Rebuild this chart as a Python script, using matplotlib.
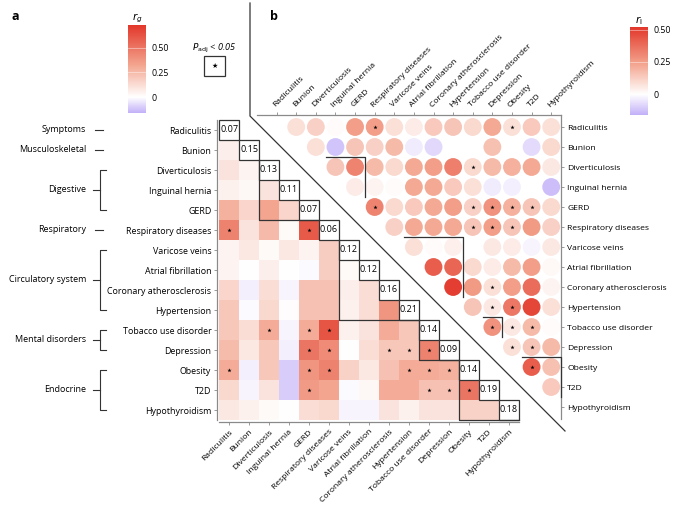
import numpy as np
import matplotlib
matplotlib.use("Agg")
import matplotlib.pyplot as plt
from matplotlib.colors import LinearSegmentedColormap, Normalize
from matplotlib.cm import ScalarMappable
from matplotlib.patches import Rectangle
from matplotlib.lines import Line2D

plt.rcParams['font.family'] = ['Open Sans', 'DejaVu Sans']
plt.rcParams['font.size'] = 6.5

DISEASES = ["Radiculitis", "Bunion", "Diverticulosis", "Inguinal hernia", "GERD",
            "Respiratory diseases", "Varicose veins", "Atrial fibrillation",
            "Coronary atherosclerosis", "Hypertension", "Tobacco use disorder",
            "Depression", "Obesity", "T2D", "Hypothyroidism"]

GROUPS = ["Symptoms", "Musculoskeletal", "Digestive", "Respiratory",
          "Circulatory system", "Mental disorders", "Endocrine"]
GROUP_SPANS = [(0, 0), (1, 1), (2, 4), (5, 5), (6, 9), (10, 11), (12, 14)]

# panel a: genetic correlation, lower triangle (row i -> cols 0..i-1)
RG_DIAG = [0.07, 0.15, 0.13, 0.11, 0.07, 0.06, 0.12, 0.12, 0.16, 0.21, 0.14, 0.09, 0.14, 0.19, 0.18]
RG_LOWER = [
    [],
    [0.06],
    [0.10, 0.04],
    [0.05, 0.03, 0.10],
    [0.28, 0.15, 0.32, 0.15],
    [0.45, 0.10, 0.25, 0.02, 0.60],
    [0.04, 0.08, 0.02, 0.08, 0.04, 0.18],
    [0.04, 0.00, 0.06, 0.00, -0.01, 0.18, 0.02],
    [0.15, -0.03, 0.12, -0.02, 0.22, 0.22, 0.06, 0.12],
    [0.20, -0.01, 0.14, 0.01, 0.22, 0.22, 0.05, 0.12, 0.38],
    [0.20, 0.12, 0.30, -0.02, 0.30, 0.62, 0.05, 0.10, 0.30, 0.20],
    [0.24, 0.08, 0.20, -0.03, 0.50, 0.42, 0.00, 0.12, 0.20, 0.20, 0.45],
    [0.30, -0.03, 0.20, -0.10, 0.38, 0.45, 0.16, 0.08, 0.22, 0.30, 0.30, 0.28],
    [0.14, -0.02, 0.10, -0.10, 0.36, 0.32, -0.01, 0.03, 0.30, 0.30, 0.22, 0.22, 0.50],
    [0.08, 0.05, 0.02, 0.00, 0.12, 0.14, -0.02, -0.02, 0.10, 0.05, 0.10, 0.10, 0.16, 0.16],
]
RG_STARS = [(5, 0), (5, 4), (10, 2), (10, 4), (10, 5), (11, 4), (11, 5), (11, 8), (11, 9),
            (11, 10), (12, 0), (12, 4), (12, 5), (12, 9), (12, 10), (12, 11), (13, 4),
            (13, 10), (13, 11), (13, 12)]

# panel b: upper triangle (row i -> cols i+1..14)
RI_UPPER = [
    [0.08, 0.12, 0.01, 0.25, 0.25, 0.08, 0.05, 0.14, 0.15, 0.10, 0.22, 0.08, 0.14, 0.08],
    [0.08, -0.12, 0.15, 0.12, 0.18, -0.04, -0.08, 0.00, 0.00, 0.16, 0.00, -0.07, 0.10],
    [0.15, 0.32, 0.18, 0.10, 0.22, 0.25, 0.33, 0.10, 0.18, 0.20, 0.22, 0.06],
    [0.05, 0.03, 0.01, 0.22, 0.22, 0.14, 0.08, -0.04, -0.03, 0.00, -0.13],
    [0.32, 0.10, 0.14, 0.22, 0.25, 0.12, 0.28, 0.20, 0.15, 0.10],
    [0.12, 0.22, 0.22, 0.22, 0.15, 0.25, 0.15, 0.26, 0.12],
    [0.08, 0.01, 0.04, 0.00, 0.06, 0.05, -0.02, 0.06],
    [0.42, 0.40, 0.10, 0.05, 0.18, 0.25, 0.02],
    [0.50, 0.26, 0.08, 0.25, 0.38, 0.03],
    [0.15, 0.06, 0.35, 0.48, 0.08],
    [0.28, 0.06, 0.18, 0.01],
    [0.08, 0.15, 0.18],
    [0.42, 0.16],
    [0.14],
    [],
]
RI_STARS = [(0, 5), (0, 12), (2, 10), (4, 5), (4, 10), (4, 11), (4, 12), (4, 13), (5, 10),
            (5, 11), (5, 12), (8, 11), (9, 11), (9, 12), (10, 11), (10, 12), (10, 13),
            (11, 12), (11, 13), (12, 13)]

W, H = 680, 505
EDGE = "#333333"
SPINE = "#8a8a8a"
TICK_FS = 6.1


def fx(x):
    return x / W


def fy(y):
    return 1 - y / H


def make_cmap(vmin, vmax):
    z = -vmin / (vmax - vmin)
    return LinearSegmentedColormap.from_list(
        "rr", [(0, "#c2b0f8"), (z, "#ffffff"), (z + (1 - z) * 0.45, "#f3a48e"), (1, "#e2372a")])


n = len(DISEASES)
RG_MIN, RG_MAX = -0.16, 0.73
RI_MIN, RI_MAX = -0.16, 0.52
cmap_a = make_cmap(RG_MIN, RG_MAX)
cmap_b = make_cmap(RI_MIN, RI_MAX)
norm_a = Normalize(RG_MIN, RG_MAX)
norm_b = Normalize(RI_MIN, RI_MAX)

fig = plt.figure(figsize=(6.8, 5.05), dpi=100)

# ---------- panel a ----------
M = np.full((n, n), np.nan)
for i, row in enumerate(RG_LOWER):
    for j, v in enumerate(row):
        M[i, j] = v

ax = fig.add_axes([fx(219), fy(420), 300 / W, 300 / H])
ax.imshow(np.ma.masked_invalid(M), cmap=cmap_a, norm=norm_a, aspect="auto",
          interpolation="nearest")
ax.set_xlim(-0.5, n - 0.5)
ax.set_ylim(n - 0.5, -0.5)
for s in ["top", "right"]:
    ax.spines[s].set_visible(False)
for s in ["left", "bottom"]:
    ax.spines[s].set_color(SPINE)
    ax.spines[s].set_linewidth(0.9)
    ax.spines[s].set_position(("outward", 1.5))
ax.set_xticks(range(n))
ax.set_yticks(range(n))
ax.set_xticklabels(DISEASES, rotation=45, ha="right", va="top", rotation_mode="anchor")
ax.set_yticklabels(DISEASES)
ax.tick_params(length=2.5, width=0.6, color=SPINE, pad=2, labelsize=TICK_FS)
ax.tick_params(axis="y", labelsize=6.4, pad=1.5)

for i, v in enumerate(RG_DIAG):
    ax.add_patch(Rectangle((i - 0.5, i - 0.5), 1, 1, facecolor="white", edgecolor=EDGE,
                           lw=0.9, clip_on=False, zorder=3))
    ax.text(i, i, f"{v:.2f}", ha="center", va="center", fontsize=6.5, zorder=4)

for s, e in GROUP_SPANS:
    if e > s:
        ax.plot([s - 0.5, s - 0.5, e + 0.5], [s - 0.5, e + 0.5, e + 0.5], color=EDGE,
                lw=0.9, clip_on=False, zorder=3)

ax.scatter([c for r, c in RG_STARS], [r for r, c in RG_STARS], marker="*", s=10,
           c="k", linewidths=0, zorder=5)

# ---------- panel b ----------
bx = fig.add_axes([fx(257), fy(419), 304 / W, 304 / H])
bx.patch.set_visible(False)
xs, ys, vs = [], [], []
for i, row in enumerate(RI_UPPER):
    for k, v in enumerate(row):
        xs.append(i + 1 + k)
        ys.append(i)
        vs.append(v)
bx.scatter(xs, ys, c=vs, cmap=cmap_b, norm=norm_b, s=165, linewidths=0, zorder=2)
bx.scatter([c for r, c in RI_STARS], [r for r, c in RI_STARS], marker="*", s=10,
           c="k", linewidths=0, zorder=5)
bx.set_xlim(-1, n - 0.5)
bx.set_ylim(n - 0.4, -0.6)
for s in ["left", "bottom"]:
    bx.spines[s].set_visible(False)
for s in ["top", "right"]:
    bx.spines[s].set_color(SPINE)
    bx.spines[s].set_linewidth(0.9)
bx.xaxis.tick_top()
bx.yaxis.tick_right()
bx.set_xticks(range(n))
bx.set_yticks(range(n))
bx.set_xticklabels(DISEASES, rotation=45, ha="left", va="bottom", rotation_mode="anchor")
bx.set_yticklabels(DISEASES)
bx.tick_params(length=2.5, width=0.6, color=SPINE, pad=2, labelsize=TICK_FS)

for s, e in GROUP_SPANS:
    if e > s:
        bx.plot([s + 0.5, e + 0.5, e + 0.5], [s - 0.5, s - 0.5, e - 0.5], color=EDGE,
                lw=0.9, clip_on=False, zorder=3)

# separator between the two panels
fig.add_artist(Line2D([fx(250), fx(250), fx(565)], [fy(3), fy(116), fy(431)],
                      color=EDGE, lw=0.9))

# ---------- colour bars ----------
def colorbar(x, y0, y1, cmap, norm, label):
    cax = fig.add_axes([fx(x), fy(y1), 18 / W, (y1 - y0) / H])
    cb = fig.colorbar(ScalarMappable(norm=norm, cmap=cmap), cax=cax)
    cb.outline.set_visible(False)
    cb.set_ticks([0, 0.25, 0.5])
    cb.set_ticklabels(["0", "0.25", "0.50"])
    cax.tick_params(length=0, pad=4, labelsize=6.3)
    for t in [0.25, 0.5]:
        cax.axhline(t, color="white", lw=0.5, alpha=0.6)
    cax.set_title(label, fontsize=7.5, pad=2)


colorbar(128, 25, 113, cmap_a, norm_a, r"$r_g$")
colorbar(630, 27, 115, cmap_b, norm_b, r"$r_\mathrm{l}$")

# significance legend
fig.text(fx(214), fy(48), r"$P_\mathrm{adj}$ < 0.05", style="italic", ha="center",
         va="center", fontsize=6.5)
fig.add_artist(Rectangle((fx(204), fy(76)), 21 / W, 20 / H, transform=fig.transFigure,
                         facecolor="white", edgecolor=EDGE, lw=0.9))
fig.text(fx(214.5), fy(66), "★", ha="center", va="center", fontsize=5,
         family="DejaVu Sans")

# panel letters
fig.text(fx(12), fy(16), "a", fontsize=9, fontweight="bold", va="center")
fig.text(fx(270), fy(16), "b", fontsize=9, fontweight="bold", va="center")

# disease group labels with brackets
for name, (s, e) in zip(GROUPS, GROUP_SPANS):
    ytop = 130 + 20 * s
    ybot = 130 + 20 * e
    ymid = (ytop + ybot) / 2
    fig.text(fx(86), fy(ymid), name, ha="right", va="center", fontsize=6.5)
    if e == s:
        fig.add_artist(Line2D([fx(95), fx(103)], [fy(ymid), fy(ymid)], color=EDGE, lw=0.8))
    else:
        fig.add_artist(Line2D([fx(106), fx(100), fx(100), fx(106)],
                              [fy(ytop), fy(ytop), fy(ybot), fy(ybot)], color=EDGE, lw=0.8))
        fig.add_artist(Line2D([fx(93), fx(100)], [fy(ymid), fy(ymid)], color=EDGE, lw=0.8))

fig.savefig("out.png", dpi=100)
